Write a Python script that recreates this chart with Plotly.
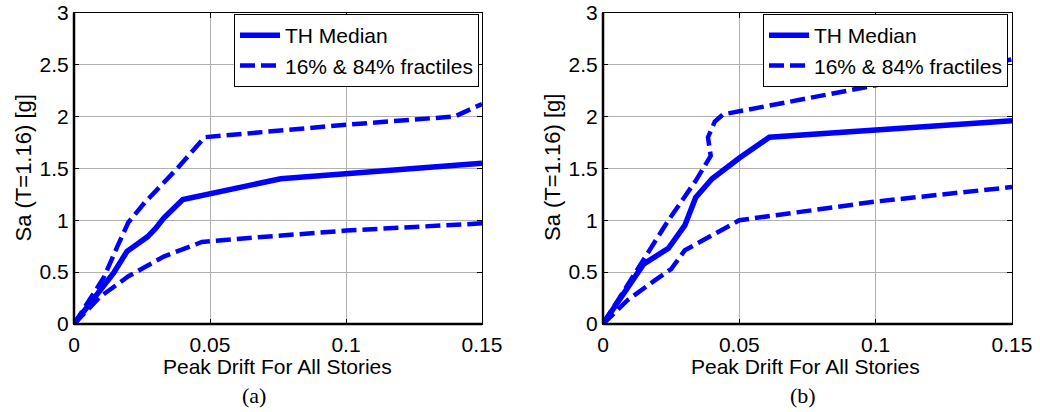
import plotly.graph_objects as go

# ---------------- data ----------------
# Panel (a)
a_med_x = [0, 0.007, 0.0145, 0.0195, 0.027, 0.030, 0.033, 0.040, 0.076, 0.15]
a_med_y = [0, 0.23, 0.49, 0.70, 0.84, 0.92, 1.02, 1.20, 1.40, 1.55]
a_p84_x = [0, 0.011, 0.016, 0.020, 0.026, 0.038, 0.048, 0.100, 0.140, 0.15]
a_p84_y = [0, 0.45, 0.75, 0.98, 1.17, 1.50, 1.80, 1.92, 2.00, 2.12]
a_p16_x = [0, 0.0095, 0.020, 0.033, 0.047, 0.060, 0.100, 0.15]
a_p16_y = [0, 0.26, 0.46, 0.65, 0.79, 0.82, 0.90, 0.97]

# Panel (b)
b_med_x = [0, 0.008, 0.015, 0.024, 0.030, 0.034, 0.040, 0.050, 0.061, 0.15]
b_med_y = [0, 0.30, 0.58, 0.73, 0.95, 1.22, 1.40, 1.60, 1.80, 1.96]
b_p84_x = [0, 0.012, 0.024, 0.034, 0.0395, 0.0385, 0.041, 0.044, 0.15]
b_p84_y = [0, 0.50, 1.00, 1.38, 1.62, 1.80, 1.95, 2.02, 2.55]
b_p16_x = [0, 0.009, 0.019, 0.025, 0.030, 0.046, 0.050, 0.100, 0.15]
b_p16_y = [0, 0.23, 0.42, 0.53, 0.71, 0.94, 1.00, 1.18, 1.32]

x_ticks = [0, 0.05, 0.1, 0.15]
y_ticks = [0, 0.5, 1, 1.5, 2, 2.5, 3]
name_med = "TH Median"
name_frac = "16% & 84% fractiles"
x_title = "Peak Drift For All Stories"
y_title = "Sa (T=1.16) [g]"
panel_labels = ["(a)", "(b)"]

# ---------------- style ----------------
BLUE = "#0000FF"
FONT = "Liberation Sans, Arial, sans-serif"
W, H = 1040, 412
FS = 21

fig = go.Figure()

def add_panel(xa, ya, leg, med, p84, p16):
    fig.add_trace(go.Scatter(x=med[0], y=med[1], mode="lines", name=name_med,
                             line=dict(color=BLUE, width=5.5), xaxis=xa, yaxis=ya,
                             legend=leg, showlegend=True))
    fig.add_trace(go.Scatter(x=p84[0], y=p84[1], mode="lines", name=name_frac,
                             line=dict(color=BLUE, width=4.5, dash="15px,6px"),
                             xaxis=xa, yaxis=ya, legend=leg, showlegend=True))
    fig.add_trace(go.Scatter(x=p16[0], y=p16[1], mode="lines", name=name_frac,
                             line=dict(color=BLUE, width=4.5, dash="15px,6px"),
                             xaxis=xa, yaxis=ya, legend=leg, showlegend=False))

add_panel("x", "y", "legend", (a_med_x, a_med_y), (a_p84_x, a_p84_y), (a_p16_x, a_p16_y))
add_panel("x2", "y2", "legend2", (b_med_x, b_med_y), (b_p84_x, b_p84_y), (b_p16_x, b_p16_y))

top_px, bot_px = 12.7, 324
ydom = [(H - bot_px) / H, (H - top_px) / H]
xdom1 = [74 / W, 482 / W]
xdom2 = [603 / W, 1012 / W]

def xaxis(dom, anchor):
    return dict(domain=dom, anchor=anchor, range=[0, 0.15], tickvals=x_ticks,
                ticks="inside", ticklen=5, tickcolor="black", showgrid=True,
                gridcolor="#b0b0b0", gridwidth=1, showline=True, linecolor="black",
                linewidth=1, mirror="ticks", zeroline=False, automargin=False,
                ticklabelstandoff=2,
                tickfont=dict(family=FONT, size=FS, color="black"))

def yaxis(anchor):
    return dict(domain=ydom, anchor=anchor, range=[0, 3], tickvals=y_ticks,
                ticks="inside", ticklen=5, tickcolor="black", showgrid=True,
                gridcolor="#b0b0b0", gridwidth=1, showline=True, linecolor="black",
                linewidth=1, mirror="ticks", zeroline=False, automargin=False,
                tickfont=dict(family=FONT, size=FS, color="black"))

legend_common = dict(bgcolor="white", bordercolor="black", borderwidth=1,
                     font=dict(family=FONT, size=FS, color="black"),
                     xanchor="right", yanchor="top", tracegroupgap=0,
                     itemwidth=40)

fig.update_layout(
    width=W, height=H,
    margin=dict(l=0, r=0, t=0, b=0, pad=0, autoexpand=False),
    paper_bgcolor="white", plot_bgcolor="white",
    xaxis=xaxis(xdom1, "y"), yaxis=yaxis("x"),
    xaxis2=xaxis(xdom2, "y2"), yaxis2=yaxis("x2"),
    legend=dict(x=479 / W, y=(H - 14) / H, **legend_common),
    legend2=dict(x=1008 / W, y=(H - 14) / H, **legend_common),
)

# thicker bottom/left axis lines
for xr, yr in (("x domain", "y domain"), ("x2 domain", "y2 domain")):
    fig.add_shape(type="line", xref=xr, yref=yr, x0=0, x1=1, y0=0, y1=0,
                  line=dict(color="black", width=2.5))
    fig.add_shape(type="line", xref=xr, yref=yr, x0=0, x1=0, y0=0, y1=1,
                  line=dict(color="black", width=2.5))

# axis titles
for cx, ycx in ((277 / W, 22.5 / W), (805 / W, 552 / W)):
    fig.add_annotation(xref="paper", yref="paper", x=cx, y=(H - 366) / H,
                       text=x_title, showarrow=False, xanchor="center", yanchor="middle",
                       font=dict(family=FONT, size=FS, color="black"))
    fig.add_annotation(xref="paper", yref="paper", x=ycx, y=(H - 168) / H,
                       text=y_title, showarrow=False, textangle=-90,
                       xanchor="center", yanchor="middle",
                       font=dict(family=FONT, size=22, color="black"))
# panel labels
for cx, lab in ((254 / W, panel_labels[0]), (803 / W, panel_labels[1])):
    fig.add_annotation(xref="paper", yref="paper", x=cx, y=(H - 395) / H,
                       text=lab, showarrow=False, xanchor="center", yanchor="middle",
                       font=dict(family="Liberation Serif, Times New Roman, serif",
                                 size=22, color="black"))

fig.write_html("out.html")
